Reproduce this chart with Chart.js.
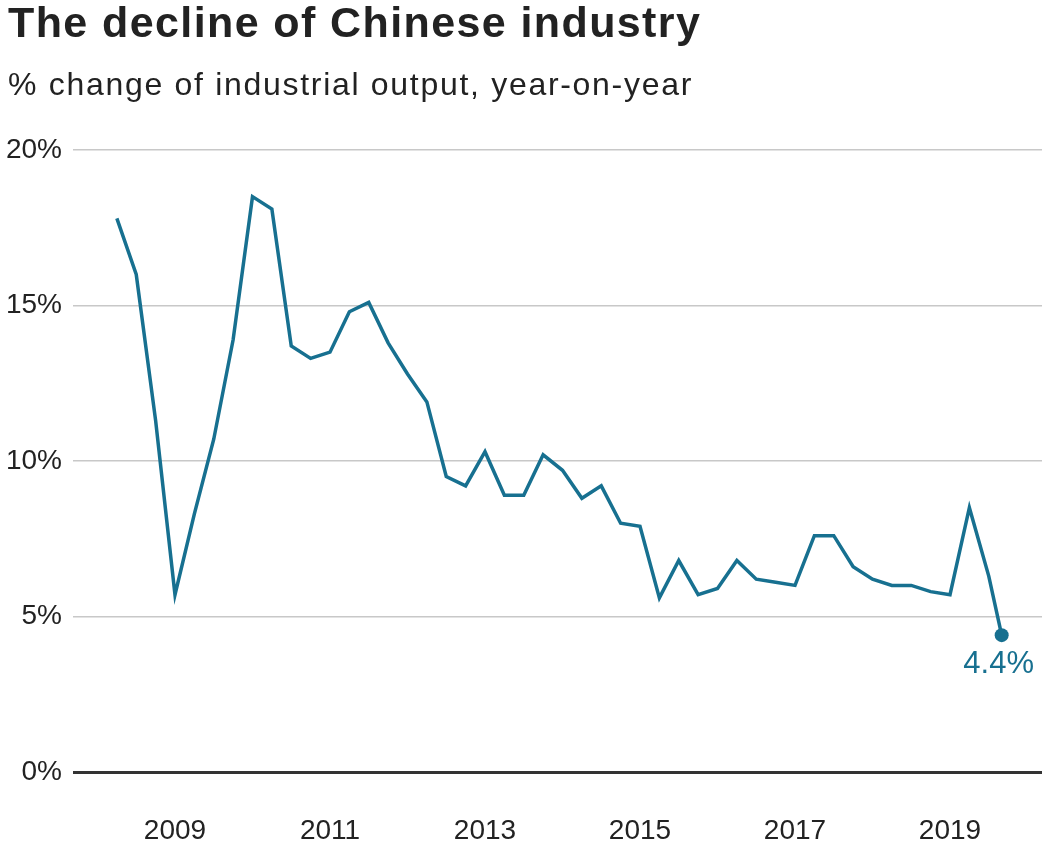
<!DOCTYPE html>
<html>
<head>
<meta charset="utf-8">
<script src="https://cdn.jsdelivr.net/npm/chart.js@4.4.1/dist/chart.umd.min.js"></script>
<style>
  html, body { margin: 0; padding: 0; background: #fff; overflow: hidden; }
  #wrap { position: relative; width: 1042px; height: 863px; }
  #chart { position: absolute; left: 0; top: 0; }
  .head { position: absolute; left: 8px; margin: 0; color: #222; white-space: nowrap;
          font-family: "Liberation Sans", Arial, Helvetica, sans-serif; line-height: 1; }
  #title { top: 1px; font-size: 43px; font-weight: bold; letter-spacing: 1.4px; }
  #sub { top: 68px; font-size: 32px; font-weight: normal; letter-spacing: 1.7px; }
</style>
</head>
<body>
<div id="wrap">
  <canvas id="chart" width="1042" height="863"></canvas>
  <h1 class="head" id="title">The decline of Chinese industry</h1>
  <h2 class="head" id="sub">% change of industrial output, year-on-year</h2>
</div>
<script>
// quarterly readings (end of quarter), last one is August 2019
const dates = [
  '2008-03','2008-06','2008-09','2008-12',
  '2009-03','2009-06','2009-09','2009-12',
  '2010-03','2010-06','2010-09','2010-12',
  '2011-03','2011-06','2011-09','2011-12',
  '2012-03','2012-06','2012-09','2012-12',
  '2013-03','2013-06','2013-09','2013-12',
  '2014-03','2014-06','2014-09','2014-12',
  '2015-03','2015-06','2015-09','2015-12',
  '2016-03','2016-06','2016-09','2016-12',
  '2017-03','2017-06','2017-09','2017-12',
  '2018-03','2018-06','2018-09','2018-12',
  '2019-03','2019-06','2019-08'
];
const output = [
  17.8, 16.0, 11.3, 5.7,
  8.3, 10.7, 13.9, 18.5,
  18.1, 13.7, 13.3, 13.5,
  14.8, 15.1, 13.8, 12.8,
  11.9, 9.5, 9.2, 10.3,
  8.9, 8.9, 10.2, 9.7,
  8.8, 9.2, 8.0, 7.9,
  5.6, 6.8, 5.7, 5.9,
  6.8, 6.2, 6.1, 6.0,
  7.6, 7.6, 6.6, 6.2,
  6.0, 6.0, 5.8, 5.7,
  8.5, 6.3, 4.4
];
const yearTicks = [2009, 2011, 2013, 2015, 2017, 2019];
const pctTicks = [0, 5, 10, 15, 20];

const FONT = '"Liberation Sans", Arial, Helvetica, sans-serif';
const BLUE = '#177090';
const INK = '#222222';

// end of month as a decimal year
const toYear = s => { const [y, m] = s.split('-').map(Number); return y + m / 12; };
const points = dates.map((d, i) => ({ x: toYear(d), y: output[i] }));
const last = points.length - 1;

const endLabel = {
  id: 'endLabel',
  afterDatasetsDraw(chart) {
    const pt = chart.getDatasetMeta(0).data[last];
    const c = chart.ctx;
    c.save();
    c.font = '31px ' + FONT;
    c.fillStyle = BLUE;
    c.textAlign = 'center';
    c.textBaseline = 'middle';
    c.fillText(output[last].toFixed(1) + '%', pt.x - 3, pt.y + 29);
    c.restore();
  }
};

new Chart(document.getElementById('chart'), {
  type: 'line',
  data: {
    datasets: [{
      data: points,
      borderColor: BLUE,
      backgroundColor: BLUE,
      borderWidth: 3.5,
      tension: 0,
      clip: false,
      pointRadius: ctx => ctx.dataIndex === last ? 7 : 0,
      pointHoverRadius: 0,
      pointBorderWidth: 0
    }]
  },
  options: {
    responsive: false,
    animation: false,
    layout: { autoPadding: false, padding: { left: 0, right: 0, top: 150, bottom: 0 } },
    plugins: {
      legend: { display: false },
      tooltip: { enabled: false },
      title: { display: false }
    },
    scales: {
      x: {
        type: 'linear',
        min: 2007.684,
        max: 2020.187,
        afterBuildTicks: s => { s.ticks = yearTicks.map(v => ({ value: v })); },
        afterFit: s => { s.height = 91; s.paddingLeft = 0; s.paddingRight = 0; },
        grid: { display: false },
        border: { display: false },
        ticks: {
          color: INK,
          padding: 34,
          font: { family: FONT, size: 28 },
          callback: v => String(v)
        }
      },
      y: {
        min: 0,
        max: 20,
        afterBuildTicks: s => { s.ticks = pctTicks.map(v => ({ value: v })); },
        afterFit: s => { s.width = 73; },
        border: { display: false },
        grid: {
          drawTicks: false,
          color: ctx => ctx.tick && ctx.tick.value === 0 ? '#333333' : '#c8c8c8',
          lineWidth: ctx => ctx.tick && ctx.tick.value === 0 ? 3 : 1.5
        },
        ticks: {
          color: INK,
          padding: 11,
          font: { family: FONT, size: 28 },
          callback: v => v + '%'
        }
      }
    }
  },
  plugins: [endLabel]
});
</script>
</body>
</html>
